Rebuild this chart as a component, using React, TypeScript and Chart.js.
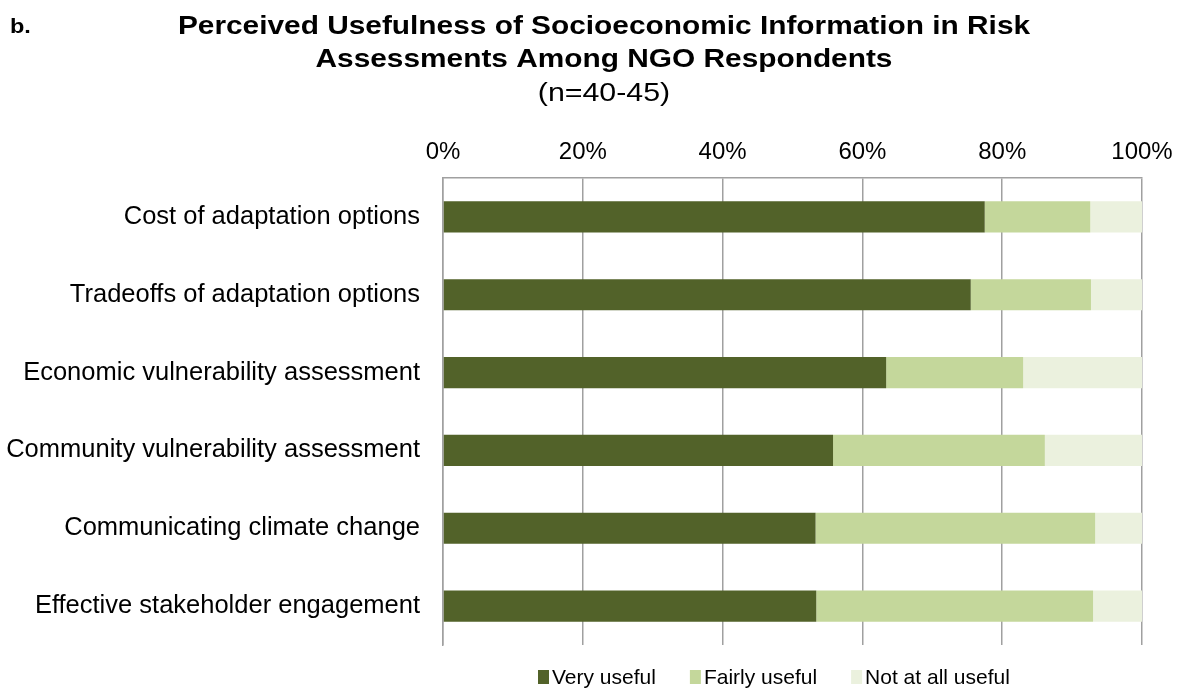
import React, { useEffect, useRef } from "react";
import { Chart, registerables } from "chart.js";

Chart.register(...registerables);

const categories = [
  "Cost of adaptation options",
  "Tradeoffs of adaptation options",
  "Economic vulnerability assessment",
  "Community vulnerability assessment",
  "Communicating climate change",
  "Effective stakeholder engagement",
];
const veryUseful = [77.5, 75.5, 63.4, 55.8, 53.3, 53.4];
const fairlyUseful = [15.1, 17.2, 19.6, 30.3, 40.0, 39.6];
const notAtAllUseful = [7.4, 7.3, 17.0, 13.9, 6.7, 7.0];
const seriesNames = ["Very useful", "Fairly useful", "Not at all useful"];
const seriesColors = ["#526229", "#c4d79b", "#ebf1de"];
const xTicks = ["0%", "20%", "40%", "60%", "80%", "100%"];
const panelLabel = "b.";
const titleLines = [
  "Perceived Usefulness of Socioeconomic Information in Risk",
  "Assessments Among NGO Respondents",
];
const subtitle = "(n=40-45)";

const FONT = "'Liberation Sans', Arial, sans-serif";

function stretchedText(ctx: any, text: string, cx: number, y: number, sx: number) {
  ctx.save();
  ctx.translate(cx, y);
  ctx.scale(sx, 1);
  ctx.fillText(text, 0, 0);
  ctx.restore();
}

const overlayPlugin = {
  id: "overlay",
  afterDraw(chart: any) {
    const ctx = chart.ctx;
    ctx.save();
    ctx.fillStyle = "#000";
    ctx.textBaseline = "alphabetic";
    ctx.textAlign = "left";
    ctx.font = `bold 21px ${FONT}`;
    stretchedText(ctx, panelLabel, 10, 33, 1.12);
    ctx.textAlign = "center";
    ctx.font = `bold 25.5px ${FONT}`;
    stretchedText(ctx, titleLines[0], 604, 34, 1.17);
    stretchedText(ctx, titleLines[1], 604, 67, 1.17);
    ctx.font = `25.5px ${FONT}`;
    stretchedText(ctx, subtitle, 604, 101, 1.19);

    // legend
    const ds = chart.data.datasets;
    ctx.font = `21px ${FONT}`;
    ctx.textAlign = "left";
    ctx.textBaseline = "middle";
    const boxW = 11;
    const boxH = 14;
    const gap = 3;
    const itemGap = 34;
    let x = 538;
    const y = 677;
    ds.forEach((d: any) => {
      ctx.fillStyle = d.backgroundColor;
      ctx.fillRect(x, y - boxH / 2, boxW, boxH);
      ctx.fillStyle = "#000";
      ctx.fillText(d.label, x + boxW + gap, y + 1);
      x += boxW + gap + ctx.measureText(d.label).width + itemGap;
    });
    ctx.restore();
  },
};

export default function App() {
  const ref = useRef<HTMLCanvasElement | null>(null);
  useEffect(() => {
    document.body.style.margin = "0";
    const data = [veryUseful, fairlyUseful, notAtAllUseful];
    const chart = new Chart(ref.current as HTMLCanvasElement, {
      type: "bar",
      data: {
        labels: categories,
        datasets: seriesNames.map((name, i) => ({
          label: name,
          data: data[i],
          backgroundColor: seriesColors[i],
          borderWidth: 0,
          barPercentage: 0.4,
          categoryPercentage: 1,
        })),
      },
      options: {
        indexAxis: "y",
        animation: false,
        responsive: false,
        maintainAspectRatio: false,
        layout: { padding: { top: 138, right: 37, bottom: 44, left: 0 } },
        plugins: {
          legend: { display: false },
          title: { display: false },
          tooltip: { enabled: false },
        },
        scales: {
          x: {
            position: "top",
            stacked: true,
            min: 0,
            max: 100,
            afterFit: (s: any) => {
              s.height = 40;
              s.paddingLeft = 0;
              s.paddingRight = 0;
            },
            ticks: {
              stepSize: 20,
              padding: 11,
              color: "#000",
              font: { family: FONT, size: 24 },
              callback: (_v: any, i: number) => xTicks[i],
            },
            grid: { color: "#a0a0a0", lineWidth: 1.5, drawTicks: false },
            border: { display: true, color: "#a0a0a0", width: 1.5 },
          },
          y: {
            stacked: true,
            afterFit: (s: any) => {
              s.width = 443;
              s.paddingTop = 0;
              s.paddingBottom = 0;
            },
            ticks: {
              padding: 23,
              color: "#000",
              font: { family: FONT, size: 25.5 },
            },
            grid: { display: false, drawTicks: false },
            border: { display: true, color: "#a0a0a0", width: 1.5 },
          },
        },
      },
      plugins: [overlayPlugin],
    });
    return () => chart.destroy();
  }, []);
  return (
    <div style={{ width: 1179, height: 689 }}>
      <canvas ref={ref} width={1179} height={689} style={{ display: "block" }} />
    </div>
  );
}
